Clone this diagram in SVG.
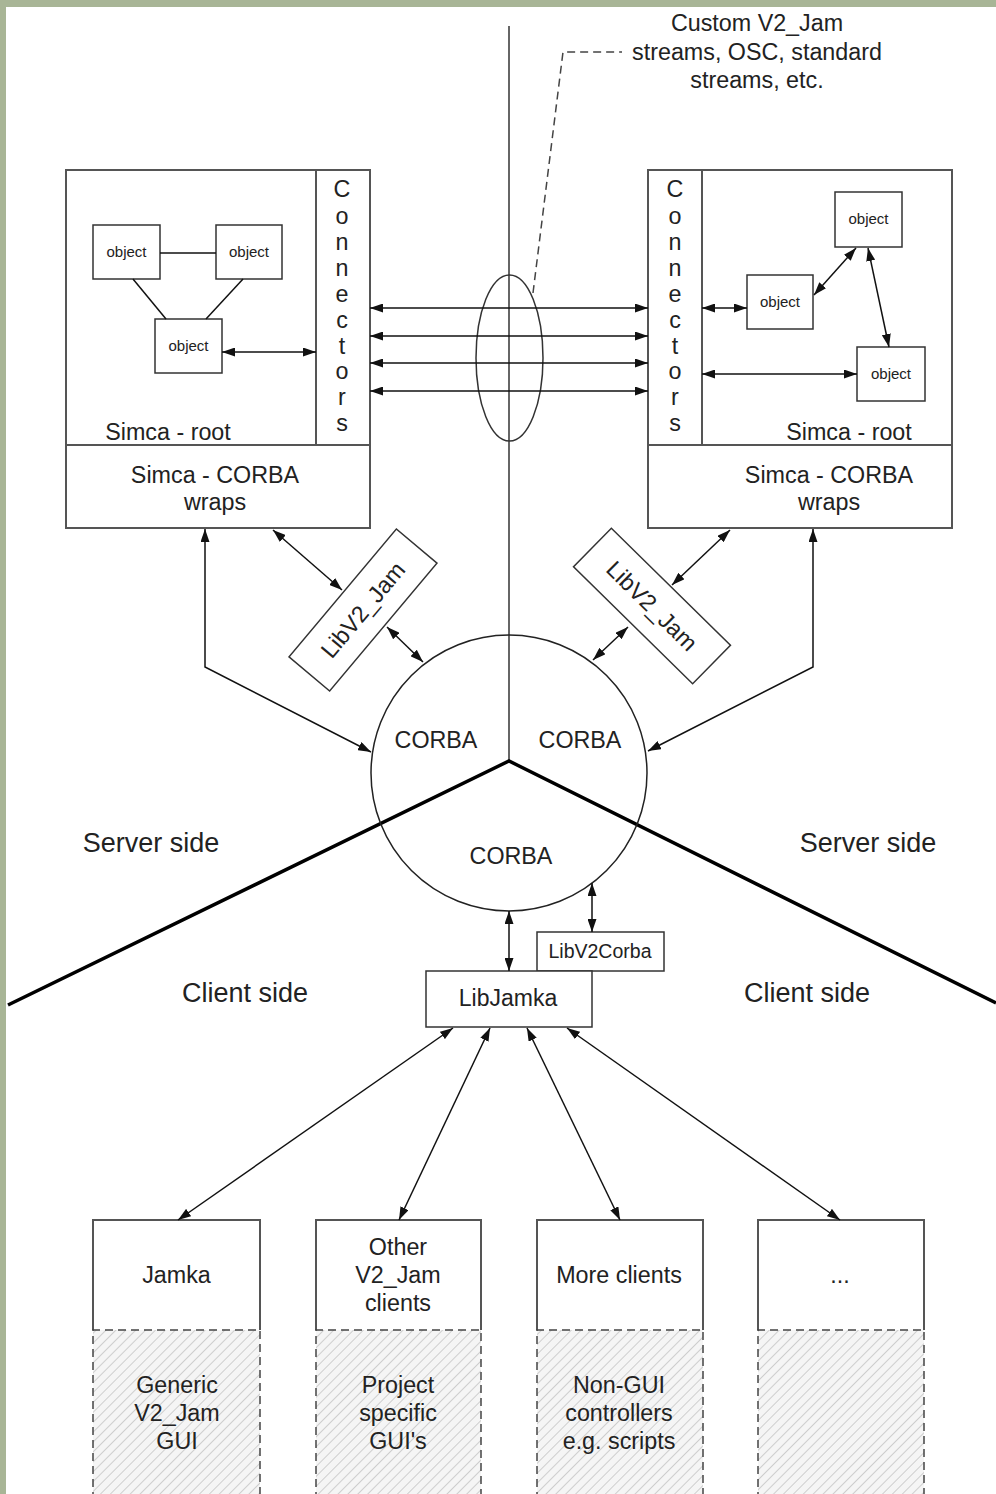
<svg xmlns="http://www.w3.org/2000/svg" width="996" height="1494" viewBox="0 0 996 1494">
<defs>
<marker id="ah" viewBox="0 0 13 9" markerWidth="13" markerHeight="9" refX="13" refY="4.5" orient="auto-start-reverse" markerUnits="userSpaceOnUse">
<path d="M0,0 L13,4.5 L0,9 z" fill="#111"/>
</marker>
<pattern id="hatch" patternUnits="userSpaceOnUse" width="7" height="7" patternTransform="rotate(45)">
<rect width="7" height="7" fill="#f5f5f5"/>
<line x1="0" y1="0" x2="0" y2="7" stroke="#bdbdbd" stroke-width="1.4"/>
</pattern>
<style>
text{font-family:"Liberation Sans",Arial,sans-serif;fill:#222;text-anchor:middle}
.t22{font-size:23.3px}
.t24{font-size:27px}
.t15{font-size:15px}
.box{fill:none;stroke:#555;stroke-width:2}
.sbox{fill:#fff;stroke:#333;stroke-width:1.5}
.ln{fill:none;stroke:#111;stroke-width:1.5}
.arr{fill:none;stroke:#111;stroke-width:1.5;marker-start:url(#ah);marker-end:url(#ah)}
.dash{fill:none;stroke:#444;stroke-width:1.5;stroke-dasharray:8,5}
</style>
</defs>
<rect width="996" height="1494" fill="#fff"/>
<rect x="0" y="0" width="996" height="7" fill="#a8b596"/>
<rect x="0" y="0" width="6" height="1494" fill="#a8b596"/>

<g id="divider">
<line x1="509" y1="26" x2="509" y2="761" stroke="#333" stroke-width="1.5"/>
<polyline points="8,1005 509,761 996,1003" fill="none" stroke="#000" stroke-width="3.5"/>
</g>

<g id="corba">
<circle cx="509" cy="773" r="138" fill="none" stroke="#222" stroke-width="1.5"/>
<text class="t22" x="436" y="748">CORBA</text>
<text class="t22" x="580" y="748">CORBA</text>
<text class="t22" x="511" y="864">CORBA</text>
</g>

<g id="streams-note">
<ellipse cx="509.5" cy="358" rx="33.5" ry="83" fill="none" stroke="#333" stroke-width="1.5"/>
<polyline class="dash" points="533,293 563,52 622,52"/>
<text class="t22" x="757" y="31">Custom V2_Jam</text>
<text class="t22" x="757" y="60">streams, OSC, standard</text>
<text class="t22" x="757" y="88">streams, etc.</text>
</g>

<g id="left-simca">
<rect class="box" x="66" y="170" width="304" height="358"/>
<line class="box" x1="66" y1="445" x2="370" y2="445"/>
<line class="box" x1="316" y1="170" x2="316" y2="445"/>
<g class="t22">
<text x="342" y="197">C</text><text x="342" y="224">o</text><text x="342" y="250">n</text><text x="342" y="276">n</text><text x="342" y="302">e</text><text x="342" y="328">c</text><text x="342" y="354">t</text><text x="342" y="379">o</text><text x="342" y="405">r</text><text x="342" y="431">s</text>
</g>
<text class="t22" x="168" y="440">Simca - root</text>
<text class="t22" x="215" y="483">Simca - CORBA</text>
<text class="t22" x="215" y="510">wraps</text>
<g id="lobj1"><rect class="sbox" x="93" y="225" width="67" height="54"/><text class="t15" x="126.5" y="257">object</text></g>
<g id="lobj2"><rect class="sbox" x="216" y="225" width="66" height="54"/><text class="t15" x="249" y="257">object</text></g>
<g id="lobj3"><rect class="sbox" x="155" y="319" width="67" height="54"/><text class="t15" x="188.5" y="351">object</text></g>
</g>

<g id="right-simca">
<rect class="box" x="648" y="170" width="304" height="358"/>
<line class="box" x1="648" y1="445" x2="952" y2="445"/>
<line class="box" x1="702" y1="170" x2="702" y2="445"/>
<g class="t22">
<text x="675" y="197">C</text><text x="675" y="224">o</text><text x="675" y="250">n</text><text x="675" y="276">n</text><text x="675" y="302">e</text><text x="675" y="328">c</text><text x="675" y="354">t</text><text x="675" y="379">o</text><text x="675" y="405">r</text><text x="675" y="431">s</text>
</g>
<text class="t22" x="849" y="440">Simca - root</text>
<text class="t22" x="829" y="483">Simca - CORBA</text>
<text class="t22" x="829" y="510">wraps</text>
<g id="robjA"><rect class="sbox" x="835" y="192" width="67" height="55"/><text class="t15" x="868.5" y="224">object</text></g>
<g id="robjB"><rect class="sbox" x="747" y="275" width="66" height="54"/><text class="t15" x="780" y="307">object</text></g>
<g id="robjC"><rect class="sbox" x="857" y="347" width="68" height="54"/><text class="t15" x="891" y="379">object</text></g>
</g>

<g id="libv2jam-left">
<g transform="rotate(-50 363 610)">
<rect class="sbox" x="279.5" y="583.5" width="167" height="53"/>
<text class="t22" x="363" y="618">LibV2_Jam</text>
</g>
</g>
<g id="libv2jam-right">
<g transform="rotate(44.5 652 606)">
<rect class="sbox" x="568.5" y="579" width="167" height="54"/>
<text class="t22" x="652" y="614">LibV2_Jam</text>
</g>
</g>

<g id="libv2corba">
<rect class="sbox" x="537" y="932" width="127" height="39"/>
<text style="font-size:19.5px" x="600" y="958">LibV2Corba</text>
</g>
<g id="libjamka">
<rect class="sbox" x="426" y="971" width="166" height="56"/>
<text style="font-size:23px" x="508" y="1006">LibJamka</text>
</g>

<g id="labels">
<text class="t24" x="151" y="852">Server side</text>
<text class="t24" x="868" y="852">Server side</text>
<text class="t24" x="245" y="1002">Client side</text>
<text class="t24" x="807" y="1002">Client side</text>
</g>

<g id="client-jamka">
<rect x="93" y="1330" width="167" height="170" fill="url(#hatch)"/>
<polyline class="box" points="93,1330 93,1220 260,1220 260,1330"/>
<polyline class="dash" points="93,1500 93,1330 260,1330 260,1500"/>
<text class="t22" x="176.5" y="1283">Jamka</text>
<text class="t22" x="177" y="1393">Generic</text>
<text class="t22" x="177" y="1421">V2_Jam</text>
<text class="t22" x="177" y="1449">GUI</text>
</g>
<g id="client-other">
<rect x="316" y="1330" width="165" height="170" fill="url(#hatch)"/>
<polyline class="box" points="316,1330 316,1220 481,1220 481,1330"/>
<polyline class="dash" points="316,1500 316,1330 481,1330 481,1500"/>
<text class="t22" x="398" y="1255">Other</text>
<text class="t22" x="398" y="1283">V2_Jam</text>
<text class="t22" x="398" y="1311">clients</text>
<text class="t22" x="398" y="1393">Project</text>
<text class="t22" x="398" y="1421">specific</text>
<text class="t22" x="398" y="1449">GUI's</text>
</g>
<g id="client-more">
<rect x="537" y="1330" width="166" height="170" fill="url(#hatch)"/>
<polyline class="box" points="537,1330 537,1220 703,1220 703,1330"/>
<polyline class="dash" points="537,1500 537,1330 703,1330 703,1500"/>
<text class="t22" x="619" y="1283">More clients</text>
<text class="t22" x="619" y="1393">Non-GUI</text>
<text class="t22" x="619" y="1421">controllers</text>
<text class="t22" x="619" y="1449">e.g. scripts</text>
</g>
<g id="client-etc">
<rect x="758" y="1330" width="166" height="170" fill="url(#hatch)"/>
<polyline class="box" points="758,1330 758,1220 924,1220 924,1330"/>
<polyline class="dash" points="758,1500 758,1330 924,1330 924,1500"/>
<text class="t22" x="840" y="1283">...</text>
</g>

<g id="connectors">
<line class="ln" x1="160" y1="253" x2="216" y2="253"/>
<line class="ln" x1="133" y1="279" x2="166" y2="319"/>
<line class="ln" x1="243" y1="279" x2="206" y2="319"/>
<line class="arr" x1="222" y1="352" x2="316" y2="352"/>
<line class="arr" x1="702" y1="308" x2="747" y2="308"/>
<line class="arr" x1="702" y1="374" x2="857" y2="374"/>
<line class="arr" x1="814" y1="295" x2="856" y2="248"/>
<line class="arr" x1="868" y1="248" x2="889" y2="347"/>
<line class="arr" x1="370" y1="308" x2="648" y2="308"/>
<line class="arr" x1="370" y1="336" x2="648" y2="336"/>
<line class="arr" x1="370" y1="363" x2="648" y2="363"/>
<line class="arr" x1="370" y1="391" x2="648" y2="391"/>
<line class="arr" x1="273" y1="530" x2="342" y2="590"/>
<line class="arr" x1="387" y1="627" x2="423" y2="662"/>
<line class="arr" x1="730" y1="530" x2="672" y2="585"/>
<line class="arr" x1="628" y1="627" x2="593" y2="660"/>
<polyline class="arr" points="205,529 205,667 371,752"/>
<polyline class="arr" points="813,529 813,667 648,751"/>
<line class="arr" x1="509" y1="911" x2="509" y2="971"/>
<line class="arr" x1="592" y1="883" x2="592" y2="932"/>
<line class="arr" x1="453" y1="1028" x2="178" y2="1220"/>
<line class="arr" x1="490" y1="1028" x2="399" y2="1220"/>
<line class="arr" x1="527" y1="1028" x2="620" y2="1220"/>
<line class="arr" x1="567" y1="1028" x2="840" y2="1220"/>
</g>
</svg>
